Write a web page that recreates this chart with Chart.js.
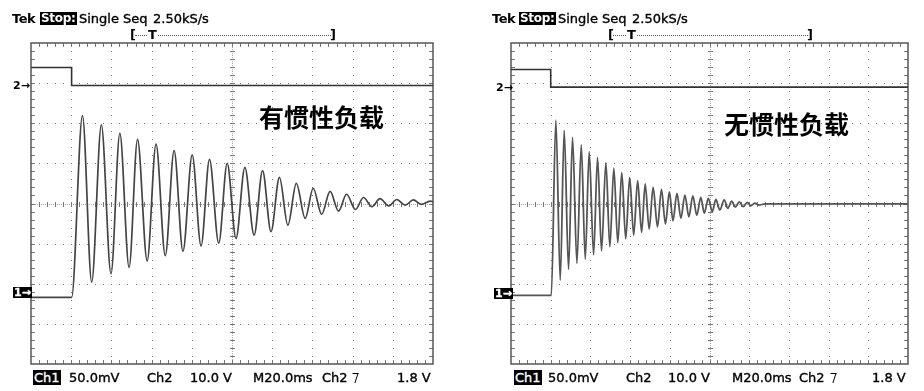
<!DOCTYPE html>
<html>
<head>
<meta charset="utf-8">
<script src="https://cdn.jsdelivr.net/npm/chart.js@4"></script>
<style>
  body { margin: 0; width: 924px; height: 391px; background: #fff; position: relative; overflow: hidden;
         font-family: "DejaVu Sans", sans-serif; color: #000; }
  canvas { position: absolute; top: 0; }
  .t { position: absolute; font-size: 13px; line-height: 15px; white-space: pre; -webkit-text-stroke: 0.35px #000; }
  .inv { background: #000; color: #fff; -webkit-text-stroke: 0.35px #fff; }
  .stop { font-size: 12px; font-weight: bold; letter-spacing: -0.3px; line-height: 13px; padding: 0 1px; -webkit-text-stroke: 0; }
  .tek { font-weight: bold; letter-spacing: -0.5px; -webkit-text-stroke: 0; }
  .br { position: absolute; font-size: 13px; font-weight: bold; line-height: 13px; }
  .trig { position: absolute; height: 0; border-top: 1px dotted #555; }
  .mk { position: absolute; font-size: 11px; font-weight: bold; line-height: 11px; white-space: pre; }
  .cn { position: absolute; font-family: "Noto Sans CJK SC", sans-serif; font-weight: bold; font-size: 25px; line-height: 28px; color: #000; }
  .edge { position: absolute; width: 5px; height: 9px; border-top: 1.5px solid #000; border-right: 1.5px solid #000; transform: skewX(-18deg); }
</style>
</head>
<body>
<canvas id="left" width="462" height="391" style="left:0"></canvas>
<canvas id="right" width="462" height="391" style="left:462px"></canvas>

<!-- left screen texts -->
<span class="t tek" style="left:12px;top:11px">Tek</span>
<span class="t inv stop" style="left:40px;top:12px">Stop:</span>
<span class="t" style="left:79px;top:11px">Single Seq</span>
<span class="t" style="left:153px;top:11px">2.50kS/s</span>
<span class="br" style="left:130px;top:28px">[</span>
<div class="trig" style="left:135px;width:196px;top:35px"></div>
<span class="br" style="left:148px;top:28px;background:#fff">T</span>
<span class="br" style="left:330px;top:28px">]</span>
<span class="mk" style="left:13px;top:80px">2→</span>
<span class="mk inv" style="left:13px;top:287px;padding:0 1px">1→</span>
<span class="cn" style="left:259px;top:102px">有惯性负载</span>
<span class="t inv" style="left:33px;top:370px;padding:0 1px">Ch1</span>
<span class="t" style="left:69px;top:370px">50.0mV</span>
<span class="t" style="left:147px;top:370px">Ch2</span>
<span class="t" style="left:190px;top:370px">10.0 V</span>
<span class="t" style="left:253px;top:370px">M20.0ms</span>
<span class="t" style="left:322px;top:370px">Ch2</span>
<div class="edge" style="left:351px;top:373px"></div>
<span class="t" style="left:397px;top:370px">1.8 V</span>

<!-- right screen texts -->
<span class="t tek" style="left:492px;top:11px">Tek</span>
<span class="t inv stop" style="left:519px;top:12px">Stop:</span>
<span class="t" style="left:558px;top:11px">Single Seq</span>
<span class="t" style="left:632px;top:11px">2.50kS/s</span>
<span class="br" style="left:608px;top:28px">[</span>
<div class="trig" style="left:613px;width:195px;top:35px"></div>
<span class="br" style="left:627px;top:28px;background:#fff">T</span>
<span class="br" style="left:807px;top:28px">]</span>
<span class="mk" style="left:496px;top:82px">2→</span>
<span class="mk inv" style="left:494px;top:288px;padding:0 1px">1→</span>
<span class="cn" style="left:724px;top:109px">无惯性负载</span>
<span class="t inv" style="left:514px;top:370px;padding:0 1px">Ch1</span>
<span class="t" style="left:548px;top:370px">50.0mV</span>
<span class="t" style="left:626px;top:370px">Ch2</span>
<span class="t" style="left:668px;top:370px">10.0 V</span>
<span class="t" style="left:732px;top:370px">M20.0ms</span>
<span class="t" style="left:799px;top:370px">Ch2</span>
<div class="edge" style="left:829px;top:373px"></div>
<span class="t" style="left:872px;top:370px">1.8 V</span>

<script>
// values are in screen divisions (10 x 8 graticule, 20 ms/div)

// left screen: with inertial load
const ch2LeftX = [0, 1.01, 1.01, 10];
const ch2LeftY = [3.39, 3.39, 2.94, 2.94];
const ch1LeftBaseX = [0, 1.01];
const ch1LeftBaseY = [-2.34, -2.34];
const leftPeakX = [1.28, 1.75, 2.21, 2.65, 3.11, 3.56, 4.01, 4.44, 4.88, 5.32, 5.76, 6.18, 6.60, 7.02, 7.44, 7.85, 8.27, 8.68, 9.10, 9.51, 9.93];
const leftPeakY = [2.19, 1.96, 1.75, 1.60, 1.48, 1.32, 1.21, 1.10, 1.00, 0.90, 0.82, 0.65, 0.50, 0.38, 0.30, 0.23, 0.15, 0.12, 0.10, 0.09, 0.06];
const leftTroughX = [1.51, 1.99, 2.44, 2.89, 3.34, 3.78, 4.23, 4.67, 5.10, 5.55, 5.97, 6.39, 6.82, 7.23, 7.65, 8.07, 8.48, 8.90, 9.31, 9.71];
const leftTroughY = [-1.96, -1.75, -1.59, -1.43, -1.30, -1.19, -1.06, -0.99, -0.87, -0.79, -0.70, -0.54, -0.37, -0.27, -0.19, -0.15, -0.08, -0.06, -0.04, -0.02];
const leftTailX = [10];
const leftTailY = [0.04];

// right screen: without inertial load
const ch2RightX = [0, 1.0, 1.0, 10];
const ch2RightY = [3.34, 3.34, 2.90, 2.90];
const ch1RightBaseX = [0, 1.015];
const ch1RightBaseY = [-2.29, -2.29];
const rightPeakX = [1.13, 1.34, 1.55, 1.77, 1.97, 2.18, 2.39, 2.59, 2.79, 2.99, 3.19, 3.38, 3.58, 3.79, 3.99, 4.18, 4.38, 4.58, 4.78, 4.97, 5.16, 5.37, 5.56, 5.75, 5.95, 6.14];
const rightPeakY = [2.08, 1.82, 1.65, 1.46, 1.29, 1.15, 1.02, 0.88, 0.77, 0.65, 0.57, 0.49, 0.40, 0.35, 0.29, 0.25, 0.21, 0.19, 0.15, 0.13, 0.10, 0.09, 0.06, 0.04, 0.03, 0.01];
const rightTroughX = [1.24, 1.45, 1.66, 1.87, 2.08, 2.28, 2.49, 2.69, 2.89, 3.09, 3.29, 3.48, 3.69, 3.89, 4.08, 4.28, 4.48, 4.68, 4.87, 5.07, 5.26, 5.46, 5.65, 5.85, 6.04, 6.24];
const rightTroughY = [-1.91, -1.64, -1.49, -1.39, -1.28, -1.18, -1.08, -0.98, -0.88, -0.79, -0.72, -0.64, -0.58, -0.51, -0.43, -0.37, -0.33, -0.29, -0.24, -0.20, -0.16, -0.12, -0.09, -0.08, -0.06, -0.04];
const rightTailX = [6.4, 10];
const rightTailY = [-0.01, -0.01];

function pts(xs, ys) {
  return xs.map((x, i) => ({ x: x, y: ys[i] }));
}
function merged(...parts) {
  return parts.flat().sort((a, b) => a.x - b.x);
}

// oscilloscope graticule drawn from the chart scales
const graticule = {
  id: 'graticule',
  beforeDatasetsDraw(chart) {
    const { ctx, chartArea: a, scales: { x, y } } = chart;
    const px = v => Math.round(x.getPixelForValue(v));
    const py = v => Math.round(y.getPixelForValue(v));
    ctx.save();
    ctx.fillStyle = '#7a7a7a';
    for (let i = 1; i < 10; i++) {
      if (i === 5) continue;
      for (let j = -19; j <= 19; j++) ctx.fillRect(px(i), py(j / 5), 1, 1);
    }
    for (let i = -3; i <= 3; i++) {
      if (i === 0) continue;
      for (let j = 1; j < 50; j++) ctx.fillRect(px(j / 5), py(i), 1, 1);
    }
    // centre cross
    ctx.fillStyle = '#a8a8a8';
    for (let p = a.left; p < a.right; p += 2) ctx.fillRect(p, py(0), 1, 1);
    for (let p = a.top; p < a.bottom; p += 2) ctx.fillRect(px(5), p, 1, 1);
    ctx.fillStyle = '#777';
    for (let j = 1; j < 50; j++) ctx.fillRect(px(j / 5), py(0) - 2, 1, 5);
    for (let j = -19; j <= 19; j++) ctx.fillRect(px(5) - 2, py(j / 5), 5, 1);
    // edge ticks
    for (let j = 1; j < 50; j++) {
      ctx.fillRect(px(j / 5), a.top, 1, 4);
      ctx.fillRect(px(j / 5), a.bottom - 4, 1, 4);
    }
    for (let j = -19; j <= 19; j++) {
      ctx.fillRect(a.left, py(j / 5), 4, 1);
      ctx.fillRect(a.right - 4, py(j / 5), 4, 1);
    }
    ctx.strokeStyle = '#555';
    ctx.lineWidth = 1.5;
    ctx.strokeRect(a.left, a.top, a.right - a.left, a.bottom - a.top);
    ctx.restore();
  }
};

function scope(id, pad, ch1, ch2, ch1Color, ch1Width) {
  return new Chart(document.getElementById(id), {
    type: 'line',
    data: {
      datasets: [
        { data: ch2, borderColor: '#333', borderWidth: 1.6, tension: 0, pointRadius: 0 },
        { data: ch1, borderColor: ch1Color, borderWidth: ch1Width, cubicInterpolationMode: 'monotone', pointRadius: 0 }
      ]
    },
    options: {
      responsive: false,
      animation: false,
      devicePixelRatio: 1,
      layout: { padding: pad },
      plugins: { legend: { display: false }, tooltip: { enabled: false } },
      scales: {
        x: { type: 'linear', min: 0, max: 10, display: false },
        y: { min: -4, max: 4, display: false }
      }
    },
    plugins: [graticule]
  });
}

scope('left', { left: 31, top: 43, right: 29, bottom: 27 },
  merged(pts(ch1LeftBaseX, ch1LeftBaseY), pts(leftPeakX, leftPeakY), pts(leftTroughX, leftTroughY), pts(leftTailX, leftTailY)),
  pts(ch2LeftX, ch2LeftY), '#444', 1.7);

scope('right', { left: 49, top: 43, right: 16, bottom: 27 },
  merged(pts(ch1RightBaseX, ch1RightBaseY), pts(rightPeakX, rightPeakY), pts(rightTroughX, rightTroughY), pts(rightTailX, rightTailY)),
  pts(ch2RightX, ch2RightY), '#555', 1.8);
</script>
</body>
</html>
